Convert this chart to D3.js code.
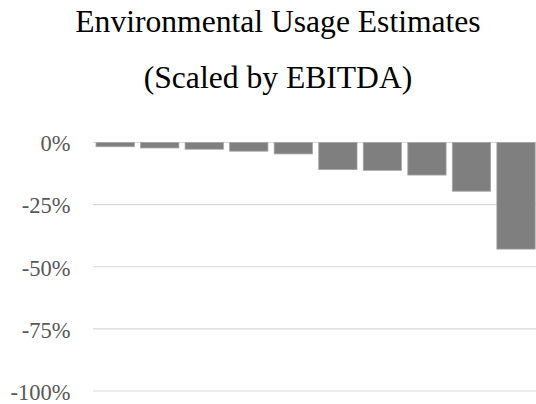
<!DOCTYPE html>
<html>
<head>
<meta charset="utf-8">
<script src="https://cdn.jsdelivr.net/npm/d3@7"></script>
<style>
  html, body { margin: 0; padding: 0; background: #fff; }
  svg { display: block; }
</style>
</head>
<body>
<svg id="chart" width="536" height="404"></svg>
<script>
// Usage estimates per company, scaled by EBITDA (percent)
const categories = ["A", "B", "C", "D", "E", "F", "G", "H", "I", "J"];
const values = [-1.7, -2.2, -2.7, -3.5, -4.6, -10.9, -11.2, -13.1, -19.6, -42.9];
const tickValues = [0, -25, -50, -75, -100];
const titleLines = ["Environmental Usage Estimates", "(Scaled by EBITDA)"];

const svg = d3.select("#chart");
const serif = "'Liberation Serif', 'Times New Roman', Times, serif";

const y = d3.scaleLinear().domain([-100, 0]).range([391, 142.5]);
const x = d3.scaleBand()
  .domain(categories)
  .range([92.9, 538.3])
  .paddingInner(0.14)
  .paddingOuter(0.07);

// Title
svg.append("g").selectAll("text")
  .data(titleLines)
  .join("text")
  .attr("x", 278)
  .attr("y", (d, i) => 31.7 + i * 56)
  .attr("text-anchor", "middle")
  .attr("font-family", serif)
  .attr("font-size", 31.6)
  .attr("fill", "#000")
  .text(d => d);

// Horizontal gridlines with percentage labels
const axis = d3.axisLeft(y)
  .tickValues(tickValues)
  .tickSize(0)
  .tickPadding(0)
  .tickFormat(d => d + "%");

const gAxis = svg.append("g")
  .attr("transform", "translate(70.5,0)")
  .attr("font-family", serif)
  .call(axis);
gAxis.select(".domain").remove();
gAxis.selectAll("text")
  .attr("font-family", serif)
  .attr("font-size", 22.5)
  .attr("fill", "#595959")
  .attr("dy", "0.37em");

svg.append("g").selectAll("line")
  .data(tickValues)
  .join("line")
  .attr("x1", 93)
  .attr("x2", 538)
  .attr("y1", d => y(d))
  .attr("y2", d => y(d))
  .attr("stroke", "#d9d9d9")
  .attr("stroke-width", 1.2);

// Bars hanging from zero
svg.append("g").selectAll("rect")
  .data(values)
  .join("rect")
  .attr("x", (d, i) => x(categories[i]))
  .attr("width", x.bandwidth())
  .attr("y", y(0))
  .attr("height", d => y(d) - y(0))
  .attr("fill", "#7f7f7f")
  .attr("stroke", "#a6a6a6")
  .attr("stroke-width", 0.8);
</script>
</body>
</html>
